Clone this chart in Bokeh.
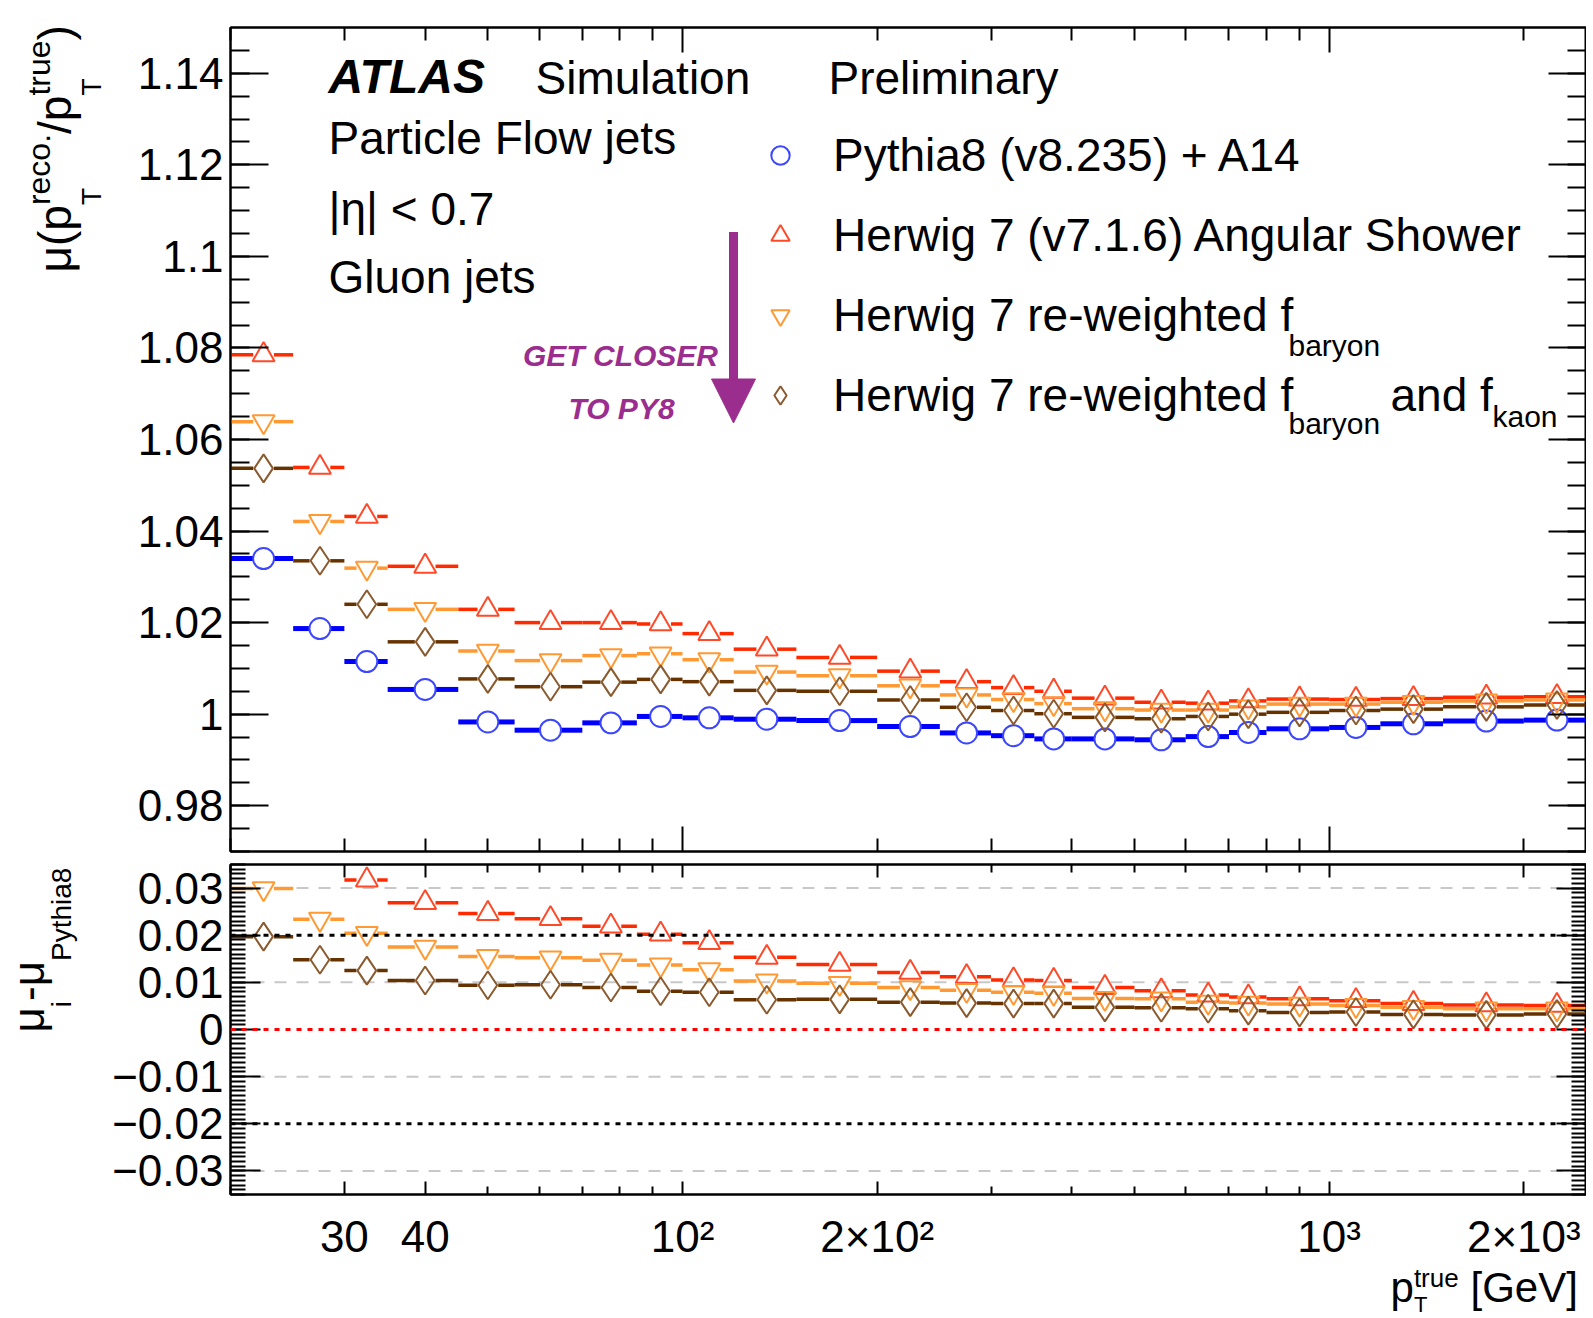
import math
from bokeh.plotting import figure
from bokeh.models import (LogAxis, LinearAxis, FixedTicker, SingleIntervalTicker,
                          CustomJSTickFormatter, Range1d, Span, Label, Legend,
                          LegendItem, Arrow, NormalHead, ColumnDataSource)
from bokeh.layouts import column, row
from bokeh.embed import file_html
from bokeh.resources import INLINE

# ---------------- data ----------------
BIN_EDGES = [20, 25, 30, 35, 45, 55, 70, 85, 100, 120, 150, 200, 250, 300, 350,
             400, 500, 600, 700, 800, 1000, 1200, 1500, 2000, 2500]

PYTHIA8 = [1.0340, 1.0187, 1.0115, 1.0054, 0.9983, 0.9965, 0.9981, 0.9995, 0.9992,
           0.9989, 0.9986, 0.9973, 0.9959, 0.9953, 0.9946, 0.9946, 0.9944, 0.9951,
           0.9960, 0.9968, 0.9971, 0.9979, 0.9985, 0.9987]
HERWIG7 = [1.0785, 1.0539, 1.0432, 1.0323, 1.0229, 1.0200, 1.0200, 1.0197, 1.0176,
           1.0142, 1.0124, 1.0094, 1.0071, 1.0058, 1.0050, 1.0035, 1.0026, 1.0024,
           1.0029, 1.0033, 1.0032, 1.0034, 1.0037, 1.0038]
HERWIG7_RW_BARYON = [1.0639, 1.0421, 1.0319, 1.0229, 1.0138, 1.0117, 1.0128, 1.0132,
                     1.0119, 1.0092, 1.0084, 1.0062, 1.0042, 1.0032, 1.0023, 1.0012,
                     1.0009, 1.0009, 1.0016, 1.0022, 1.0022, 1.0026, 1.0029, 1.0031]
HERWIG7_RW_BARYON_KAON = [1.0537, 1.0335, 1.0240, 1.0158, 1.0077, 1.0060, 1.0070,
                          1.0076, 1.0071, 1.0052, 1.0050, 1.0031, 1.0015, 1.0008,
                          1.0001, 0.9993, 0.9990, 0.9995, 1.0000, 1.0004, 1.0008,
                          1.0011, 1.0016, 1.0020]

SERIES_NAMES = ["Pythia8 (v8.235) + A14",
                "Herwig 7 (v7.1.6) Angular Shower",
                "Herwig 7 re-weighted f",
                "Herwig 7 re-weighted f"]

X_LABEL_TICKS = [30, 40, 100, 200, 1000, 2000]
X_TICK_LABELS = ["30", "40", "10²", "2×10²", "10³", "2×10³"]
X_DECADE_TICKS = [100, 1000]
X_MINOR_TICKS = [20, 30, 40, 50, 60, 70, 80, 90, 200, 300, 400, 500, 600, 700, 800, 900, 2000]

TOP_Y_TICKS = [0.98, 1.00, 1.02, 1.04, 1.06, 1.08, 1.10, 1.12, 1.14]
TOP_Y_LABELS = ["0.98", "1", "1.02", "1.04", "1.06", "1.08", "1.1", "1.12", "1.14"]
RATIO_Y_TICKS = [-0.03, -0.02, -0.01, 0.0, 0.01, 0.02, 0.03]
RATIO_Y_LABELS = ["\u22120.03", "\u22120.02", "\u22120.01", "0", "0.01", "0.02", "0.03"]

TOP_Y_RANGE = (0.97, 1.15)
RATIO_Y_RANGE = (-0.035, 0.035)

# ---------------- style ----------------
FONT = "Liberation Sans"
STRIP_W = 106
MAIN_W = 1480
PURPLE = "#9b2d8f"
STYLES = [
    dict(line="#0000ff", lw=5, marker="circle", mk="#3c46ff", size=21),
    dict(line="#ff2a00", lw=3.5, marker="triangle", mk="#ff4a2a", size=22),
    dict(line="#ff9933", lw=3.5, marker="inverted_triangle", mk="#ff9933", size=22),
    dict(line="#663300", lw=3.5, marker="diamond", mk="#8a5a2e", size=28),
]
GAP = 10 ** 0.016  # gap of the horizontal bars around the marker
A = math.pi / 2


def label_formatter(vals, labs):
    return CustomJSTickFormatter(args=dict(vals=vals, labs=labs), code="""
        for (let i = 0; i < vals.length; i++) {
            if (Math.abs(vals[i] - tick) <= 1e-6) return labs[i];
        }
        return "";
    """)


def style_axis(ax, major_in, minor_in, labels=False, standoff=0):
    ax.axis_line_color = "black"
    ax.axis_line_width = 2
    ax.major_tick_in = major_in
    ax.major_tick_out = 0
    ax.minor_tick_in = minor_in
    ax.minor_tick_out = 0
    ax.major_tick_line_color = "black"
    ax.major_tick_line_width = 2
    ax.minor_tick_line_color = "black"
    ax.minor_tick_line_width = 2
    ax.major_label_standoff = standoff
    if labels:
        ax.major_label_text_font = FONT
        ax.major_label_text_font_size = "44px"
        ax.major_label_text_color = "black"
    else:
        ax.formatter = CustomJSTickFormatter(code='return "";')
        ax.major_label_text_font_size = "2px"


def add_label(p, x, y, text, size, color="black", **kw):
    # y (or x for rotated text) is the centre line of the capitals
    kw.setdefault("text_baseline", "middle")
    p.add_layout(Label(x=x, y=y, x_units="screen", y_units="screen", text=text,
                       text_font=FONT, text_font_size=f"{size}px", text_color=color, **kw))


def strip(width, height):
    s = figure(width=width, height=height, x_range=Range1d(0, 1), y_range=Range1d(0, 1),
               x_axis_location=None, y_axis_location=None, output_backend="svg",
               toolbar_location=None, min_border=0)
    s.outline_line_color = None
    s.grid.visible = False
    return s


lo = BIN_EDGES[:-1]
hi = BIN_EDGES[1:]
xc = [(a + b) / 2 for a, b in zip(lo, hi)]


def draw(p, yvals, st, yrange=None):
    idx = [i for i, v in enumerate(yvals) if yrange is None or yrange[0] <= v <= yrange[1]]
    src = ColumnDataSource(dict(lo=[lo[i] for i in idx], hi=[hi[i] for i in idx],
                                x=[xc[i] for i in idx], y=[yvals[i] for i in idx],
                                xl=[xc[i] / GAP for i in idx], xr=[xc[i] * GAP for i in idx]))
    p.segment(x0="lo", y0="y", x1="xl", y1="y", source=src, line_color=st["line"], line_width=st["lw"])
    p.segment(x0="xr", y0="y", x1="hi", y1="y", source=src, line_color=st["line"], line_width=st["lw"])
    return p.scatter(x="x", y="y", source=src, marker=st["marker"], size=st["size"],
                     fill_alpha=0, line_color=st["mk"], line_width=2)


# ---------------- top panel ----------------
p1 = figure(width=MAIN_W, height=858, x_axis_type="log",
            x_range=Range1d(BIN_EDGES[0], BIN_EDGES[-1]), y_range=Range1d(*TOP_Y_RANGE),
            output_backend="svg", toolbar_location=None,
            min_border_left=124, min_border_right=0, min_border_top=27, min_border_bottom=7)
p1.outline_line_color = "black"
p1.outline_line_width = 2
p1.grid.visible = False

top_xticker = FixedTicker(ticks=X_DECADE_TICKS, minor_ticks=X_MINOR_TICKS)
p1.xaxis[0].ticker = top_xticker
style_axis(p1.xaxis[0], 25, 13)
top_yticker = SingleIntervalTicker(interval=0.02, num_minor_ticks=4)
p1.yaxis[0].ticker = top_yticker
p1.yaxis[0].formatter = label_formatter(TOP_Y_TICKS, TOP_Y_LABELS)
style_axis(p1.yaxis[0], 38, 19, labels=True, standoff=7)
ax = LogAxis(ticker=top_xticker)
style_axis(ax, 25, 13)
p1.add_layout(ax, "above")
ax = LinearAxis(ticker=top_yticker)
style_axis(ax, 38, 19)
p1.add_layout(ax, "right")

all_series = [PYTHIA8, HERWIG7, HERWIG7_RW_BARYON, HERWIG7_RW_BARYON_KAON]
renderers = [draw(p1, s, st) for s, st in zip(all_series, STYLES)]

legend = Legend(items=[LegendItem(label=n, renderers=[r]) for n, r in zip(SERIES_NAMES, renderers)],
                location=(527, 429), orientation="vertical",
                label_text_font=FONT, label_text_font_size="46px", label_text_color="black",
                glyph_width=46, glyph_height=46, label_standoff=30, spacing=26,
                padding=0, margin=0, border_line_alpha=0, background_fill_alpha=0,
                label_height=40)
p1.add_layout(legend)

# subscripts of the legend entries
add_label(p1, 1058, 505.7, "baryon", 30)
add_label(p1, 1058, 427.7, "baryon", 30)
add_label(p1, 1160, 457, "and f", 46)
add_label(p1, 1262, 435, "kaon", 30)

# ATLAS text block
add_label(p1, 98, 774.7, "ATLAS", 48, text_font_style="bold italic")
add_label(p1, 305, 774, "Simulation", 46)
add_label(p1, 598, 774, "Preliminary", 46)
add_label(p1, 98, 713.5, "Particle Flow jets", 46)
add_label(p1, 98, 643, "|\u03b7| < 0.7", 46)
add_label(p1, 98, 574.5, "Gluon jets", 46)

# handwritten note and arrow
p1.add_layout(Arrow(x_start=503, y_start=619.5, x_end=503, y_end=428.5,
                    start_units="screen", end_units="screen",
                    line_color=PURPLE, line_width=9,
                    end=NormalHead(size=44, fill_color=PURPLE, line_color=PURPLE)))
add_label(p1, 390, 496.5, "GET CLOSER", 30, color=PURPLE, text_font_style="bold italic",
          text_align="center")
add_label(p1, 391, 443.5, "TO PY8", 30, color=PURPLE, text_font_style="bold italic",
          text_align="center")

# y title of the top panel, in its own strip (rotated pieces for sub/superscripts)
s1 = strip(STRIP_W, 858)
add_label(s1, 54, 579, "\u03bc(p", 46, angle=A)
add_label(s1, 38, 646.4, "reco.", 32, angle=A)
add_label(s1, 91, 646.4, "T", 28, angle=A)
add_label(s1, 54, 717.5, "/p", 46, angle=A)
add_label(s1, 38, 755.9, "true", 32, angle=A)
add_label(s1, 91, 755.9, "T", 28, angle=A)
add_label(s1, 54, 811, ")", 46, angle=A)

# ---------------- ratio panel ----------------
p2 = figure(width=MAIN_W, height=405, x_axis_type="log", x_range=p1.x_range,
            y_range=Range1d(*RATIO_Y_RANGE),
            output_backend="svg", toolbar_location=None,
            min_border_left=124, min_border_right=0, min_border_top=6, min_border_bottom=66)
p2.outline_line_color = "black"
p2.outline_line_width = 2
p2.grid.visible = False

bot_xticker = FixedTicker(ticks=X_LABEL_TICKS,
                          minor_ticks=[t for t in X_MINOR_TICKS if t not in X_LABEL_TICKS])
p2.xaxis[0].ticker = bot_xticker
p2.xaxis[0].formatter = label_formatter(X_LABEL_TICKS, X_TICK_LABELS)
style_axis(p2.xaxis[0], 13, 8, labels=True, standoff=17)
bot_yticker = SingleIntervalTicker(interval=0.01, num_minor_ticks=10)
p2.yaxis[0].ticker = bot_yticker
p2.yaxis[0].formatter = label_formatter(RATIO_Y_TICKS, RATIO_Y_LABELS)
style_axis(p2.yaxis[0], 30, 15, labels=True, standoff=7)
ax = LogAxis(ticker=bot_xticker)
style_axis(ax, 13, 8)
p2.add_layout(ax, "above")
ax = LinearAxis(ticker=bot_yticker)
style_axis(ax, 30, 15)
p2.add_layout(ax, "right")

for yv in [0.03, 0.01, -0.01, -0.03]:
    p2.add_layout(Span(location=yv, dimension="width", line_color="#c8c8c8",
                       line_width=2, line_dash="12 10", level="underlay"))
for yv in [0.02, -0.02]:
    p2.add_layout(Span(location=yv, dimension="width", line_color="black",
                       line_width=3, line_dash="5 6"))
p2.add_layout(Span(location=0.0, dimension="width", line_color="#ff0000",
                   line_width=3, line_dash="5 6"))

for s, st in zip(all_series[1:], STYLES[1:]):
    diff = [a - b for a, b in zip(s, PYTHIA8)]
    draw(p2, diff, st, yrange=RATIO_Y_RANGE)

# y title of the ratio panel
s2 = strip(STRIP_W, 405)
add_label(s2, 28, 162, "\u03bc", 44, angle=A)
add_label(s2, 61, 187.3, "i", 28, angle=A)
add_label(s2, 28, 193.5, "-\u03bc", 44, angle=A)
add_label(s2, 61, 233.5, "Pythia8", 28, angle=A)

# x title strip
s3 = strip(STRIP_W + MAIN_W, 55)
add_label(s3, 1390, 31, "p", 42)
add_label(s3, 1413.4, 40.5, "true", 26)
add_label(s3, 1413.4, 14, "T", 22)
add_label(s3, 1470, 31, "[GeV]", 42)

layout = column(row(s1, p1), row(s2, p2), s3)
open("out.html", "w").write(file_html(layout, INLINE, title="ATLAS gluon jets"))
